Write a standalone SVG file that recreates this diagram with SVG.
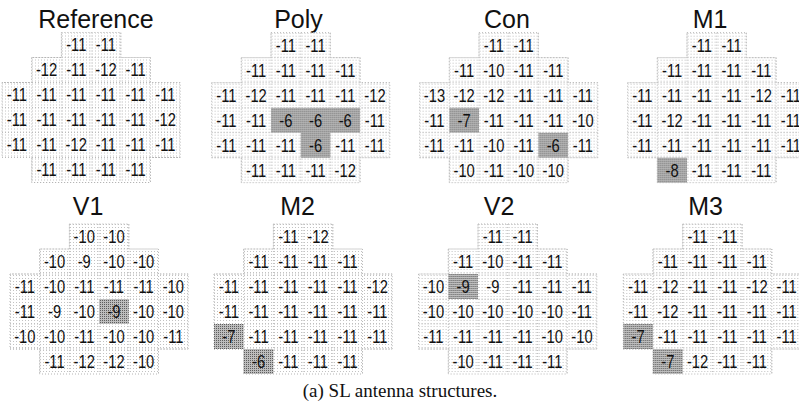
<svg xmlns="http://www.w3.org/2000/svg" xmlns:xlink="http://www.w3.org/1999/xlink" width="799" height="407" viewBox="0 0 799 407">
<style>
.title{font-family:"Liberation Sans",Arial,sans-serif;font-size:25px;fill:#111;text-anchor:middle}
.t text{font-family:"Liberation Sans",Arial,sans-serif;font-size:18px;fill:#111;text-anchor:middle}
.t tspan{text-anchor:middle}
.cap{font-family:"Liberation Serif","Times New Roman",serif;font-size:19px;fill:#111;text-anchor:middle}
.hl{fill:url(#dk)}
</style>
<defs>
<pattern id="dot" width="3" height="3" patternUnits="userSpaceOnUse"><rect width="3" height="3" fill="#fff"/><rect width="1" height="1" fill="#c2c2c2"/></pattern>
<pattern id="dk" width="2" height="2" patternUnits="userSpaceOnUse"><rect width="2" height="2" fill="#bdbdbd"/><rect width="1" height="1" fill="#5e5e5e"/></pattern>
<g id="bg">
<path d="M59.4 0H118.8V25H148.5V50H178.2V125H148.5V150H29.7V125H0V50H29.7V25H59.4Z" fill="url(#dot)" stroke="#b4b4b4" stroke-width="1" stroke-dasharray="1 2"/>
<path d="M29.7 25V150M59.4 0V150M89.1 0V150M118.8 0V150M148.5 25V150M29.7 25H148.5M0 50H178.2M0 75H178.2M0 100H178.2M0 125H178.2" fill="none" stroke="#bcbcbc" stroke-width="1" stroke-dasharray="1 2"/>
</g>
</defs>
<rect width="799" height="407" fill="#fff"/>
<g id="titles">
<text class="title" x="96" y="28">Reference</text>
<text class="title" x="298.5" y="28">Poly</text>
<text class="title" x="507" y="28">Con</text>
<text class="title" x="710" y="28">M1</text>
<text class="title" x="88" y="215">V1</text>
<text class="title" x="297.5" y="215">M2</text>
<text class="title" x="499" y="215">V2</text>
<text class="title" x="705.5" y="215">M3</text>
</g>
<g id="reference" transform="translate(2,32.5)">
<use xlink:href="#bg"/>
<g class="t" transform="scale(0.82,1)">
<text y="19"><tspan x="90.55">-11</tspan><tspan x="126.77">-11</tspan></text>
<text y="44"><tspan x="54.33">-12</tspan><tspan x="90.55">-11</tspan><tspan x="126.77">-12</tspan><tspan x="162.99">-11</tspan></text>
<text y="69"><tspan x="18.11">-11</tspan><tspan x="54.33">-11</tspan><tspan x="90.55">-11</tspan><tspan x="126.77">-11</tspan><tspan x="162.99">-11</tspan><tspan x="199.21">-11</tspan></text>
<text y="94"><tspan x="18.11">-11</tspan><tspan x="54.33">-11</tspan><tspan x="90.55">-11</tspan><tspan x="126.77">-11</tspan><tspan x="162.99">-11</tspan><tspan x="199.21">-12</tspan></text>
<text y="119"><tspan x="18.11">-11</tspan><tspan x="54.33">-11</tspan><tspan x="90.55">-12</tspan><tspan x="126.77">-11</tspan><tspan x="162.99">-11</tspan><tspan x="199.21">-11</tspan></text>
<text y="144"><tspan x="54.33">-11</tspan><tspan x="90.55">-11</tspan><tspan x="126.77">-11</tspan><tspan x="162.99">-11</tspan></text>
</g>
</g>
<g id="poly" transform="translate(211.6,32.7)">
<use xlink:href="#bg"/>
<path class="hl" d="M59.4 75H148.5V100H118.8V125H89.1V100H59.4Z"/>
<g class="t" transform="scale(0.82,1)">
<text y="19"><tspan x="90.55">-11</tspan><tspan x="126.77">-11</tspan></text>
<text y="44"><tspan x="54.33">-11</tspan><tspan x="90.55">-11</tspan><tspan x="126.77">-11</tspan><tspan x="162.99">-11</tspan></text>
<text y="69"><tspan x="18.11">-11</tspan><tspan x="54.33">-12</tspan><tspan x="90.55">-11</tspan><tspan x="126.77">-11</tspan><tspan x="162.99">-11</tspan><tspan x="199.21">-12</tspan></text>
<text y="94"><tspan x="18.11">-11</tspan><tspan x="54.33">-11</tspan><tspan x="90.55">-6</tspan><tspan x="126.77">-6</tspan><tspan x="162.99">-6</tspan><tspan x="199.21">-11</tspan></text>
<text y="119"><tspan x="18.11">-11</tspan><tspan x="54.33">-11</tspan><tspan x="90.55">-11</tspan><tspan x="126.77">-6</tspan><tspan x="162.99">-11</tspan><tspan x="199.21">-11</tspan></text>
<text y="144"><tspan x="54.33">-11</tspan><tspan x="90.55">-11</tspan><tspan x="126.77">-11</tspan><tspan x="162.99">-12</tspan></text>
</g>
</g>
<g id="con" transform="translate(419.6,32.7)">
<use xlink:href="#bg"/>
<rect class="hl" x="29.7" y="75" width="29.7" height="25"/>
<rect class="hl" x="118.8" y="100" width="29.7" height="25"/>
<g class="t" transform="scale(0.82,1)">
<text y="19"><tspan x="90.55">-11</tspan><tspan x="126.77">-11</tspan></text>
<text y="44"><tspan x="54.33">-11</tspan><tspan x="90.55">-10</tspan><tspan x="126.77">-11</tspan><tspan x="162.99">-11</tspan></text>
<text y="69"><tspan x="18.11">-13</tspan><tspan x="54.33">-12</tspan><tspan x="90.55">-12</tspan><tspan x="126.77">-11</tspan><tspan x="162.99">-11</tspan><tspan x="199.21">-11</tspan></text>
<text y="94"><tspan x="18.11">-11</tspan><tspan x="54.33">-7</tspan><tspan x="90.55">-11</tspan><tspan x="126.77">-11</tspan><tspan x="162.99">-11</tspan><tspan x="199.21">-10</tspan></text>
<text y="119"><tspan x="18.11">-11</tspan><tspan x="54.33">-11</tspan><tspan x="90.55">-10</tspan><tspan x="126.77">-11</tspan><tspan x="162.99">-6</tspan><tspan x="199.21">-11</tspan></text>
<text y="144"><tspan x="54.33">-10</tspan><tspan x="90.55">-11</tspan><tspan x="126.77">-10</tspan><tspan x="162.99">-10</tspan></text>
</g>
</g>
<g id="m1" transform="translate(627.6,32.7)">
<use xlink:href="#bg"/>
<rect class="hl" x="29.7" y="125" width="29.7" height="25"/>
<g class="t" transform="scale(0.82,1)">
<text y="19"><tspan x="90.55">-11</tspan><tspan x="126.77">-11</tspan></text>
<text y="44"><tspan x="54.33">-11</tspan><tspan x="90.55">-11</tspan><tspan x="126.77">-11</tspan><tspan x="162.99">-11</tspan></text>
<text y="69"><tspan x="18.11">-11</tspan><tspan x="54.33">-11</tspan><tspan x="90.55">-11</tspan><tspan x="126.77">-11</tspan><tspan x="162.99">-12</tspan><tspan x="199.21">-11</tspan></text>
<text y="94"><tspan x="18.11">-11</tspan><tspan x="54.33">-12</tspan><tspan x="90.55">-11</tspan><tspan x="126.77">-11</tspan><tspan x="162.99">-11</tspan><tspan x="199.21">-11</tspan></text>
<text y="119"><tspan x="18.11">-11</tspan><tspan x="54.33">-11</tspan><tspan x="90.55">-11</tspan><tspan x="126.77">-11</tspan><tspan x="162.99">-11</tspan><tspan x="199.21">-11</tspan></text>
<text y="144"><tspan x="54.33">-8</tspan><tspan x="90.55">-11</tspan><tspan x="126.77">-11</tspan><tspan x="162.99">-11</tspan></text>
</g>
</g>
<g id="v1" transform="translate(10,224)">
<use xlink:href="#bg"/>
<rect class="hl" x="89.1" y="75" width="29.7" height="25"/>
<g class="t" transform="scale(0.82,1)">
<text y="19"><tspan x="90.55">-10</tspan><tspan x="126.77">-10</tspan></text>
<text y="44"><tspan x="54.33">-10</tspan><tspan x="90.55">-9</tspan><tspan x="126.77">-10</tspan><tspan x="162.99">-10</tspan></text>
<text y="69"><tspan x="18.11">-11</tspan><tspan x="54.33">-10</tspan><tspan x="90.55">-11</tspan><tspan x="126.77">-11</tspan><tspan x="162.99">-11</tspan><tspan x="199.21">-10</tspan></text>
<text y="94"><tspan x="18.11">-11</tspan><tspan x="54.33">-9</tspan><tspan x="90.55">-10</tspan><tspan x="126.77">-9</tspan><tspan x="162.99">-10</tspan><tspan x="199.21">-10</tspan></text>
<text y="119"><tspan x="18.11">-10</tspan><tspan x="54.33">-10</tspan><tspan x="90.55">-11</tspan><tspan x="126.77">-10</tspan><tspan x="162.99">-10</tspan><tspan x="199.21">-11</tspan></text>
<text y="144"><tspan x="54.33">-11</tspan><tspan x="90.55">-12</tspan><tspan x="126.77">-12</tspan><tspan x="162.99">-10</tspan></text>
</g>
</g>
<g id="m2" transform="translate(214,224)">
<use xlink:href="#bg"/>
<rect class="hl" x="0" y="100" width="29.7" height="25"/>
<rect class="hl" x="29.7" y="125" width="29.7" height="25"/>
<g class="t" transform="scale(0.82,1)">
<text y="19"><tspan x="90.55">-11</tspan><tspan x="126.77">-12</tspan></text>
<text y="44"><tspan x="54.33">-11</tspan><tspan x="90.55">-11</tspan><tspan x="126.77">-11</tspan><tspan x="162.99">-11</tspan></text>
<text y="69"><tspan x="18.11">-11</tspan><tspan x="54.33">-11</tspan><tspan x="90.55">-11</tspan><tspan x="126.77">-11</tspan><tspan x="162.99">-11</tspan><tspan x="199.21">-12</tspan></text>
<text y="94"><tspan x="18.11">-11</tspan><tspan x="54.33">-11</tspan><tspan x="90.55">-11</tspan><tspan x="126.77">-11</tspan><tspan x="162.99">-11</tspan><tspan x="199.21">-11</tspan></text>
<text y="119"><tspan x="18.11">-7</tspan><tspan x="54.33">-11</tspan><tspan x="90.55">-11</tspan><tspan x="126.77">-11</tspan><tspan x="162.99">-11</tspan><tspan x="199.21">-11</tspan></text>
<text y="144"><tspan x="54.33">-6</tspan><tspan x="90.55">-11</tspan><tspan x="126.77">-11</tspan><tspan x="162.99">-11</tspan></text>
</g>
</g>
<g id="v2" transform="translate(418.6,224)">
<use xlink:href="#bg"/>
<rect class="hl" x="29.7" y="50" width="29.7" height="25"/>
<g class="t" transform="scale(0.82,1)">
<text y="19"><tspan x="90.55">-11</tspan><tspan x="126.77">-11</tspan></text>
<text y="44"><tspan x="54.33">-11</tspan><tspan x="90.55">-10</tspan><tspan x="126.77">-11</tspan><tspan x="162.99">-11</tspan></text>
<text y="69"><tspan x="18.11">-10</tspan><tspan x="54.33">-9</tspan><tspan x="90.55">-9</tspan><tspan x="126.77">-11</tspan><tspan x="162.99">-11</tspan><tspan x="199.21">-11</tspan></text>
<text y="94"><tspan x="18.11">-10</tspan><tspan x="54.33">-10</tspan><tspan x="90.55">-10</tspan><tspan x="126.77">-10</tspan><tspan x="162.99">-10</tspan><tspan x="199.21">-11</tspan></text>
<text y="119"><tspan x="18.11">-11</tspan><tspan x="54.33">-11</tspan><tspan x="90.55">-11</tspan><tspan x="126.77">-11</tspan><tspan x="162.99">-10</tspan><tspan x="199.21">-10</tspan></text>
<text y="144"><tspan x="54.33">-10</tspan><tspan x="90.55">-11</tspan><tspan x="126.77">-11</tspan><tspan x="162.99">-11</tspan></text>
</g>
</g>
<g id="m3" transform="translate(623.3,224)">
<use xlink:href="#bg"/>
<rect class="hl" x="0" y="100" width="29.7" height="25"/>
<rect class="hl" x="29.7" y="125" width="29.7" height="25"/>
<g class="t" transform="scale(0.82,1)">
<text y="19"><tspan x="90.55">-11</tspan><tspan x="126.77">-11</tspan></text>
<text y="44"><tspan x="54.33">-11</tspan><tspan x="90.55">-11</tspan><tspan x="126.77">-11</tspan><tspan x="162.99">-11</tspan></text>
<text y="69"><tspan x="18.11">-11</tspan><tspan x="54.33">-12</tspan><tspan x="90.55">-11</tspan><tspan x="126.77">-11</tspan><tspan x="162.99">-12</tspan><tspan x="199.21">-11</tspan></text>
<text y="94"><tspan x="18.11">-11</tspan><tspan x="54.33">-12</tspan><tspan x="90.55">-11</tspan><tspan x="126.77">-11</tspan><tspan x="162.99">-11</tspan><tspan x="199.21">-11</tspan></text>
<text y="119"><tspan x="18.11">-7</tspan><tspan x="54.33">-11</tspan><tspan x="90.55">-11</tspan><tspan x="126.77">-11</tspan><tspan x="162.99">-11</tspan><tspan x="199.21">-11</tspan></text>
<text y="144"><tspan x="54.33">-7</tspan><tspan x="90.55">-12</tspan><tspan x="126.77">-11</tspan><tspan x="162.99">-11</tspan></text>
</g>
</g>
<text class="cap" x="400" y="397">(a) SL antenna structures.</text>
</svg>
